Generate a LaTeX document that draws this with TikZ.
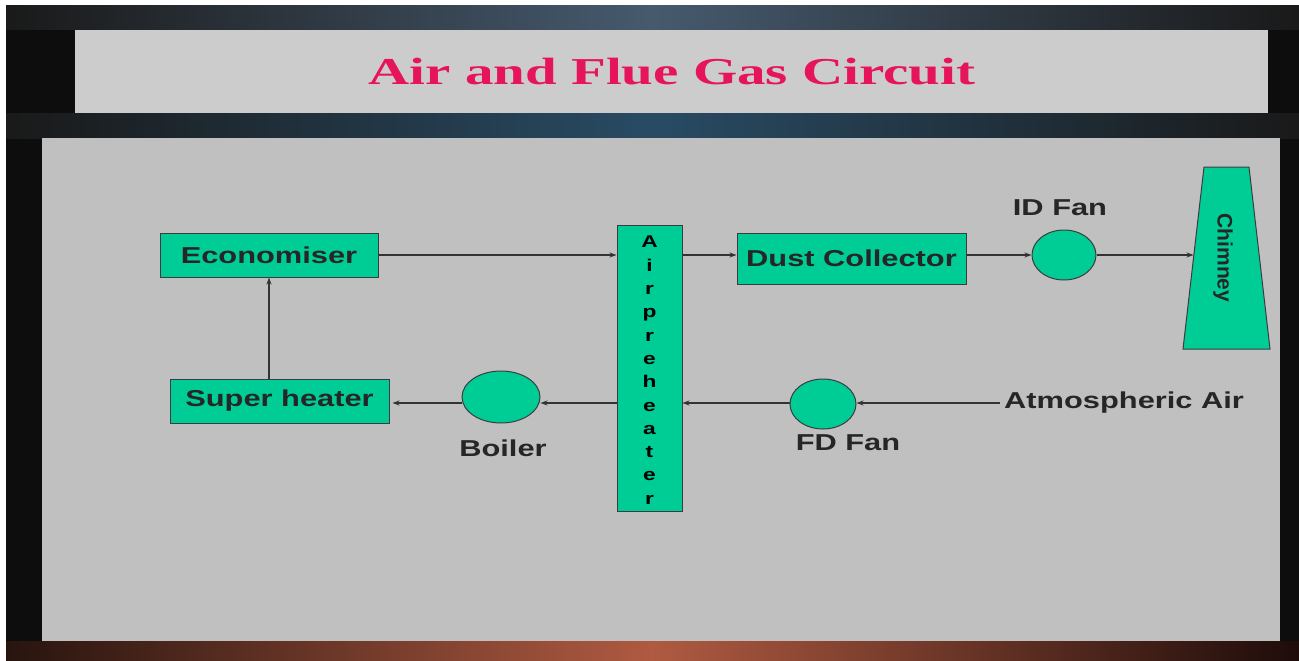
\documentclass[tikz,border=0pt]{standalone}
\usepackage{fontspec}
\usetikzlibrary{shapes.geometric,arrows.meta}
\newfontfamily\labfont[FakeStretch=1.34]{Liberation Sans}
\newfontfamily\chimfont{Liberation Sans}
\newfontfamily\titlefont[FakeStretch=1.5]{Liberation Serif}
\definecolor{boxgreen}{RGB}{0,204,150}
\definecolor{panel}{RGB}{192,192,192}
\definecolor{titlebg}{RGB}{204,204,204}
\definecolor{titlered}{RGB}{230,20,90}
\definecolor{edge}{RGB}{60,60,60}
\tikzset{
  unit/.style={draw=edge, line width=1pt, fill=boxgreen, inner sep=0pt},
  lab/.style={font=\labfont\bfseries\fontsize{23}{26}\selectfont, text=black!85},
  fan/.style={unit, ellipse},
  flow/.style={line width=1.1pt, draw=black!80, -{Stealth[length=7pt,width=5pt]}},
}
\begin{document}
\begin{tikzpicture}[x=1pt,y=-1pt]
\useasboundingbox (0,0) rectangle (1299,661);
\fill[white] (0,0) rectangle (1299,661);
\fill[black!95] (6,6) rectangle (1299,661);
\shade[left color=black!90, right color=black!90, middle color={rgb,255:red,70;green,90;blue,110}] (6,6) rectangle (1299,30);
\shade[left color=black!90, right color=black!90, middle color={rgb,255:red,40;green,75;blue,100}] (6,113) rectangle (1299,138);
\shade[left color={rgb,255:red,40;green,20;blue,15}, right color={rgb,255:red,30;green,12;blue,10}, middle color={rgb,255:red,175;green,90;blue,65}] (6,641) rectangle (1299,661);
% title
\node[fill=titlebg, minimum width=1193pt, minimum height=83pt, inner sep=0pt, anchor=north west] (titlebox) at (75,30) {};
\node[font=\titlefont\bfseries\fontsize{38}{42}\selectfont, text=titlered] (title) at (672,72) {Air and Flue Gas Circuit};
% panel
\node[fill=panel, minimum width=1238pt, minimum height=503pt, inner sep=0pt, anchor=north west] (panelbox) at (42,138) {};
% units
\node[unit, lab, minimum width=218pt, minimum height=44pt] (eco) at (269,255) {Economiser};
\node[unit, lab, minimum width=219pt, minimum height=44pt] (sh) at (279.5,401) {Super heater};
\node[unit, minimum width=65pt, minimum height=286pt] (aph) at (649.5,368) {};
\node[font=\labfont\bfseries\fontsize{17}{23.3}\selectfont, align=center, inner sep=0pt, anchor=north] (aphtext) at (649.5,236) {A\\i\\r\\p\\r\\e\\h\\e\\a\\t\\e\\r};
\node[unit, lab, minimum width=229pt, minimum height=51pt] (dust) at (851.5,258.5) {Dust Collector};
\node[fan, minimum width=64pt, minimum height=50pt] (idfan) at (1064,255) {};
\node[lab] (idlab) at (1060,208) {ID Fan};
\draw[unit] (1204,167) -- (1249,167) -- (1270,349) -- (1183,349) -- cycle;
\node[font=\chimfont\bfseries\fontsize{21}{24}\selectfont, rotate=-90, text=black!85] (chim) at (1223,258) {Chimney};
\coordinate (chimin) at (1193.5,255);
\coordinate (atmin) at (1000,403);
\node[fan, minimum width=78pt, minimum height=52pt] (boiler) at (501,397) {};
\node[lab] (boilerlab) at (503,448) {Boiler};
\node[fan, minimum width=66pt, minimum height=50pt] (fdfan) at (823,404) {};
\node[lab] (fdlab) at (848,443) {FD Fan};
\node[lab, anchor=west, inner sep=0pt] (atm) at (1004,403) {Atmospheric Air};
% flows
\draw[flow] (eco.east) -- (eco.east -| aph.west);
\draw[flow] (aph.east |- idfan.west) -- (dust.west |- idfan.west);
\draw[flow] (dust.east |- idfan.west) -- (idfan.west);
\draw[flow] (idfan.east) -- (chimin);
\draw[flow] (atmin) -- (fdfan.east |- atmin);
\draw[flow] (fdfan.west |- atmin) -- (aph.east |- atmin);
\draw[flow] (aph.west |- atmin) -- (boiler.east |- atmin);
\draw[flow] (boiler.west |- atmin) -- ([xshift=3pt]sh.east |- atmin);
\draw[flow] (sh.north -| eco.south) -- (eco.south);
\end{tikzpicture}
\end{document}
